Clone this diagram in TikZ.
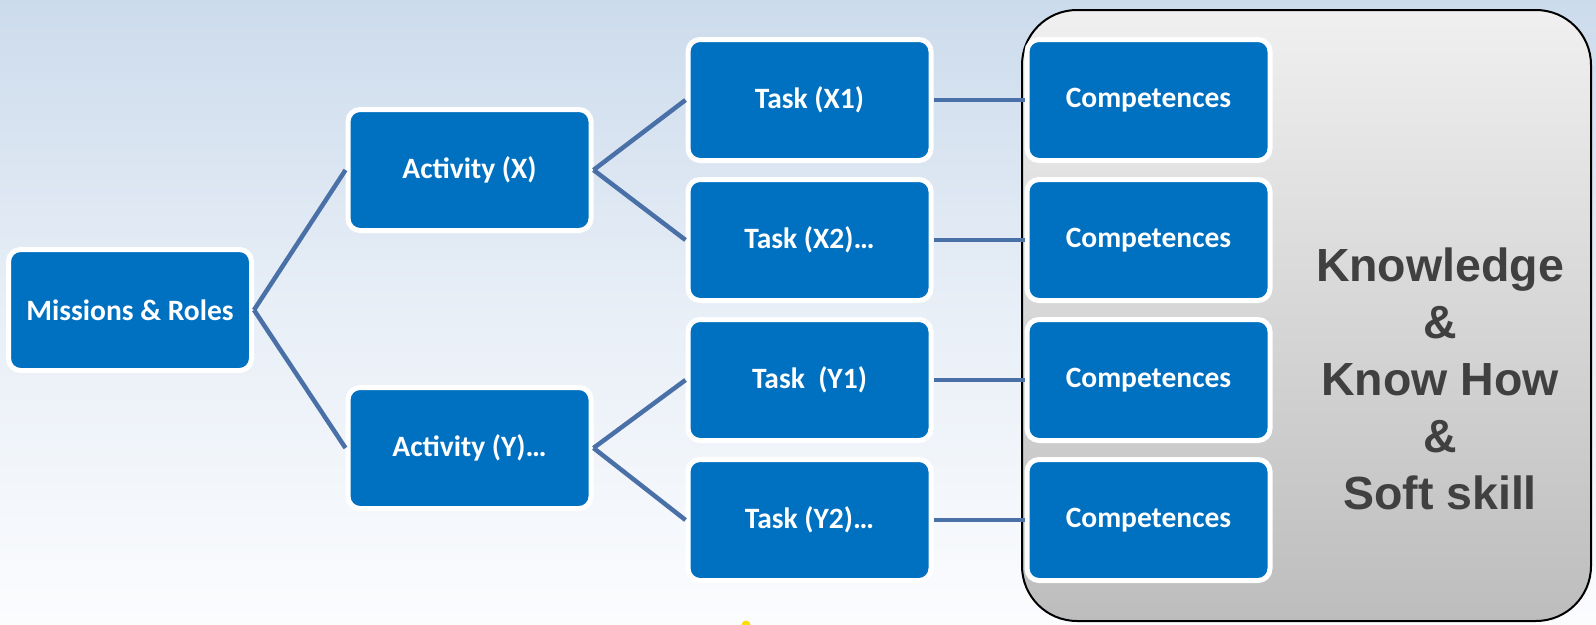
\documentclass[tikz,border=0pt]{standalone}
\usepackage{fontspec}
\setmainfont{Carlito}
\newfontfamily\arialfont{Liberation Sans}
\definecolor{boxblue}{HTML}{0070C0}
\definecolor{linkblue}{HTML}{4A70A8}
\definecolor{bgtop}{HTML}{CCDBEC}
\definecolor{bgbot}{HTML}{FBFCFE}
\definecolor{graytop}{HTML}{F0F0F0}
\definecolor{graybot}{HTML}{BDBDBD}
\definecolor{txtgray}{HTML}{404040}
\tikzset{
  bluebox/.style={draw=white, line width=5pt, fill=boxblue, rounded corners=12pt,
    minimum width=243pt, minimum height=121pt, inner sep=0pt, text=white,
    font=\bfseries\fontsize{29.5}{35}\selectfont},
  link/.style={draw=linkblue, line width=4.5pt},
}
\begin{document}
\begin{tikzpicture}[x=1pt,y=-1pt]
\useasboundingbox (0,0) rectangle (1596,624);
\shade[top color=bgtop, bottom color=bgbot, middle color=bgtop!40!bgbot] (0,0) rectangle (1596,624);
% gray panel
\shade[top color=graytop, bottom color=graybot, rounded corners=55pt]
  (1022,10) rectangle (1591,621);
\draw[black, line width=2pt, rounded corners=55pt] (1022,10) rectangle (1591,621);
% small yellow mark
\fill[yellow!80!orange] (746,625) circle (4.5pt);
% nodes
\node[bluebox] (mr) at (130,310) {Missions \& Roles};
\node[bluebox] (ax) at (469.5,170) {Activity (X)};
\node[bluebox] (ay) at (469.5,448) {Activity (Y)…};
\node[bluebox] (tx1) at (809.5,100) {Task (X1)};
\node[bluebox] (tx2) at (809.5,240) {Task (X2)…};
\node[bluebox] (ty1) at (809.5,380) {Task\ \ (Y1)};
\node[bluebox] (ty2) at (809.5,520) {Task (Y2)…};
\node[bluebox] (c1) at (1148.5,100) {Competences};
\node[bluebox] (c2) at (1148.5,240) {Competences};
\node[bluebox] (c3) at (1148.5,380) {Competences};
\node[bluebox] (c4) at (1148.5,520) {Competences};
% connectors
\draw[link] (mr.east) -- (ax.west);
\draw[link] (mr.east) -- (ay.west);
\draw[link] (ax.east) -- (tx1.west);
\draw[link] (ax.east) -- (tx2.west);
\draw[link] (ay.east) -- (ty1.west);
\draw[link] (ay.east) -- (ty2.west);
\draw[link] (tx1.east) -- (c1.west);
\draw[link] (tx2.east) -- (c2.west);
\draw[link] (ty1.east) -- (c3.west);
\draw[link] (ty2.east) -- (c4.west);
% panel text
\node[font=\arialfont\bfseries\fontsize{46.5}{57}\selectfont, text=txtgray, align=center]
  (kn) at (1440,379) {Knowledge\\\&\\Know How\\\&\\Soft skill};
\end{tikzpicture}
\end{document}
